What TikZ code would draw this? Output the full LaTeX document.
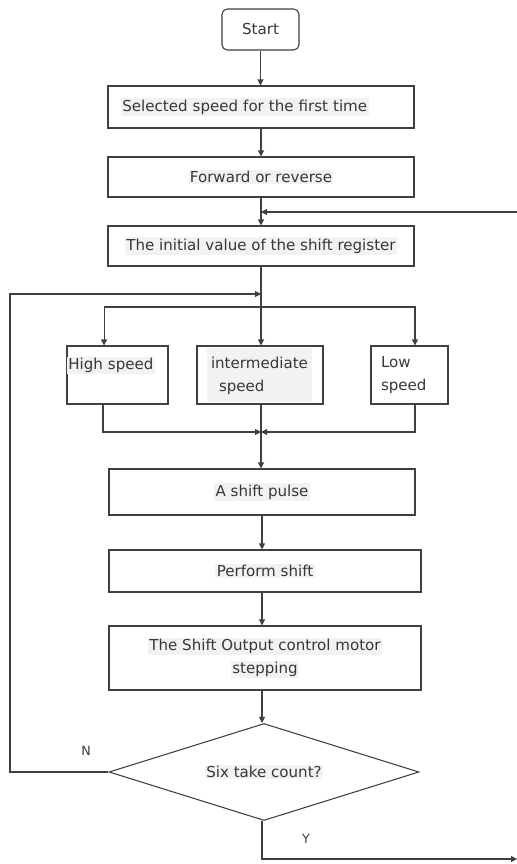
\documentclass[tikz,border=0pt]{standalone}
\usepackage{fontspec}
\setmainfont{DejaVu Sans}
\usetikzlibrary{shapes.geometric,arrows.meta}
\definecolor{hlgray}{RGB}{242, 242, 242}
\definecolor{linegray}{RGB}{64, 64, 64}
\definecolor{textgray}{RGB}{55, 55, 55}
\newcommand{\hlt}[1]{{\setlength{\fboxsep}{1pt}\colorbox{hlgray}{#1}}}

\begin{document}
\begin{tikzpicture}[x=0.75pt, y=-0.75pt,
    font=\fontsize{11.3}{17.5}\selectfont, text=textgray,
    flow/.style={draw=linegray, line width=0.8pt, -{Triangle[length=4.5pt,width=4.5pt]}},
    box/.style={rectangle, draw=linegray, line width=0.8pt, fill=white, inner sep=0pt, align=center},
    speedbox/.style={box, minimum height=43.5pt, align=left, inner xsep=7.5pt},
    decision/.style={diamond, draw=linegray, line width=0.8pt, inner sep=0pt, aspect=3.2}]
    \useasboundingbox (0,0) rectangle (517,864);
            \node[box, rounded corners=4pt, minimum width=57.75pt, minimum height=30.75pt] (start) at (260.5, 29.5) {Start};
            \node[box, minimum width=229.5pt, minimum height=31.5pt, text width=210pt, inner xsep=9.75pt, align=left] (sel) at (261, 107) {\hlt{Selected speed for the first time}};
            \node[box, minimum width=229.5pt, minimum height=30pt] (fwd)   at (261, 177) {\hlt{Forward or reverse}};
            \node[box, minimum width=229.5pt, minimum height=30pt] (init)  at (261, 246) {\hlt{The initial value of the shift register}};
            \node[speedbox, text width=75.75pt, inner xsep=0pt] (high)     at (117.5, 375) {\hlt{High speed}\\\mbox{}};
            \node[speedbox, text width=79.5pt]  (mid)                      at (260, 375) {\colorbox{hlgray}{\begin{tabular}{@{}l@{}}intermediate\\\hspace{6pt}speed\end{tabular}}};
            \node[speedbox, text width=42.75pt] (low)                      at (409.5, 375) {Low\\speed};
            \node[box, minimum width=229.5pt, minimum height=34.5pt] (pulse) at (262, 492) {\hlt{A shift pulse}};
            \node[box, minimum width=234pt, minimum height=31.5pt]   (perf)  at (265, 571) {\hlt{Perform shift}};
            \node[box, minimum width=234pt, minimum height=48pt]     (outp)  at (265, 658) {\hlt{The Shift Output control motor}\\\hlt{stepping}};
            \node[decision, minimum width=232.5pt, minimum height=72.75pt] (dec) at (264, 772) {\hlt{Six take count?}};
            \node (nlab) at (86, 751)  {\fontsize{9.5}{11}\selectfont N};
            \node (ylab) at (306, 839) {\fontsize{9.5}{11}\selectfont Y};
            \coordinate (fbin)  at (517, 212);
            \coordinate (lp)    at (10, 294);
            \coordinate (br)    at (261, 307);
            \coordinate (mg)    at (261, 432);
            \coordinate (yout)  at (517, 859);
            % main line
            \draw[flow] (start.south) -- (start.south |- sel.north);
            \draw[flow] (sel.south)   -- (fwd.north);
            \draw[flow] (fwd.south)   -- (init.north);
            \draw[flow] (fbin)        -- (fwd.south |- fbin);
            \draw[flow] (init.south)  -- (init.south |- mid.north);
            \draw[flow] (dec.west) -| (lp) -- (init.south |- lp);
            % three speeds
            \draw[flow] (br) -| ([xshift=-10.1pt]high.north);
            \draw[flow] (br) -| ([xshift=4.1pt]low.north);
            \draw[flow] ([xshift=-10.9pt]high.south) |- (mg);
            \draw[flow] ([xshift=4.1pt]low.south)    |- (mg);
            \draw[flow] (init.south |- mid.south) -- (init.south |- pulse.north);
            \draw[flow] (pulse.south) -- (pulse.south |- perf.north);
            \draw[flow] (pulse.south |- perf.south) -- (pulse.south |- outp.north);
            \draw[flow] (pulse.south |- outp.south) -- (pulse.south |- dec.north);
            \draw[flow] (pulse.south |- dec.south) |- (yout);
        \end{tikzpicture}
\end{document}
